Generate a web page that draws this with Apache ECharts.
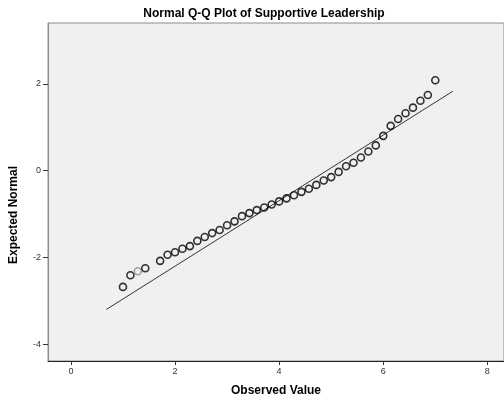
<!DOCTYPE html>
<html>
<head>
<meta charset="utf-8">
<script src="https://cdn.jsdelivr.net/npm/echarts@6/dist/echarts.min.js"></script>
<style>
html,body{margin:0;padding:0;background:#fff;}
#c{width:504px;height:403px;}
</style>
</head>
<body>
<div id="c"></div>
<script>
var chartTitle = "Normal Q-Q Plot of Supportive Leadership";
var xTitle = "Observed Value";
var yTitle = "Expected Normal";
var xTicks = [0, 2, 4, 6, 8];
var yTicks = [-4, -2, 0, 2];

var observed = [1.000, 1.143, 1.286, 1.429, 1.714, 1.857, 2.000, 2.143, 2.286, 2.429,
  2.571, 2.714, 2.857, 3.000, 3.143, 3.286, 3.429, 3.571, 3.714, 3.857,
  4.000, 4.143, 4.286, 4.429, 4.571, 4.714, 4.857, 5.000, 5.143, 5.286,
  5.429, 5.571, 5.714, 5.857, 6.000, 6.143, 6.286, 6.429, 6.571, 6.714,
  6.857, 7.000];
var expected = [-2.68, -2.41, -2.32, -2.25, -2.08, -1.94, -1.88, -1.80, -1.74, -1.62,
  -1.53, -1.44, -1.37, -1.26, -1.17, -1.05, -0.98, -0.91, -0.85, -0.78,
  -0.71, -0.64, -0.57, -0.49, -0.42, -0.33, -0.23, -0.15, -0.03, 0.10,
  0.18, 0.30, 0.44, 0.58, 0.80, 1.03, 1.19, 1.32, 1.45, 1.61,
  1.74, 2.08];
var refLineX = [0.68, 7.34];
var refLineY = [-3.20, 1.83];

var greyIndex = 2;

var pts = observed.map(function (v, i) {
  var d = { value: [v, expected[i]] };
  if (i === greyIndex) d.itemStyle = { borderColor: '#8a8a8a' };
  return d;
});
var linePts = refLineX.map(function (v, i) { return [v, refLineY[i]]; });

var chart = echarts.init(document.getElementById('c'), null, { renderer: 'canvas' });
chart.setOption({
  animation: false,
  backgroundColor: '#ffffff',
  title: {
    text: chartTitle,
    left: 259, top: 3, textAlign: 'center',
    textStyle: { fontFamily: 'Liberation Sans', fontSize: 12, fontWeight: 'bold', color: '#000' }
  },
  grid: {
    left: 47, top: 23, right: -3, bottom: 42,
    show: true, backgroundColor: '#f0f0f0', borderColor: '#8c8c8c', borderWidth: 1,
    containLabel: false
  },
  xAxis: {
    type: 'value', min: -0.44, max: 8.32,
    name: xTitle, nameLocation: 'middle', nameGap: 24,
    nameTextStyle: { fontFamily: 'Liberation Sans', fontSize: 12, fontWeight: 'bold', color: '#000' },
    axisLine: { show: true, onZero: false, lineStyle: { color: '#222', width: 1 } },
    axisTick: { show: true, length: 4, inside: false, customValues: xTicks, lineStyle: { color: '#333' } },
    axisLabel: { customValues: xTicks, fontFamily: 'Liberation Sans', fontSize: 9, color: '#333', margin: 6 },
    splitLine: { show: false }
  },
  yAxis: {
    type: 'value', min: -4.387, max: 3.40,
    name: yTitle, nameLocation: 'middle', nameGap: 28, nameRotate: 90,
    nameTextStyle: { fontFamily: 'Liberation Sans', fontSize: 12, fontWeight: 'bold', color: '#000', padding: [0, 46, 0, 0] },
    axisLine: { show: true, onZero: false, lineStyle: { color: '#8c8c8c', width: 1 } },
    axisTick: { show: true, length: 5, inside: false, customValues: yTicks, lineStyle: { color: '#333' } },
    axisLabel: { customValues: yTicks, fontFamily: 'Liberation Sans', fontSize: 9, color: '#333', margin: 7 },
    splitLine: { show: false }
  },
  series: [
    {
      type: 'line', data: linePts, showSymbol: false, symbol: 'none',
      lineStyle: { color: '#333', width: 1 }, z: 2, silent: true
    },
    {
      type: 'scatter', data: pts, symbol: 'circle', symbolSize: 7,
      itemStyle: { color: 'rgba(0,0,0,0)', borderColor: '#000', borderWidth: 1.6 },
      z: 3
    }
  ]
});
</script>
</body>
</html>
